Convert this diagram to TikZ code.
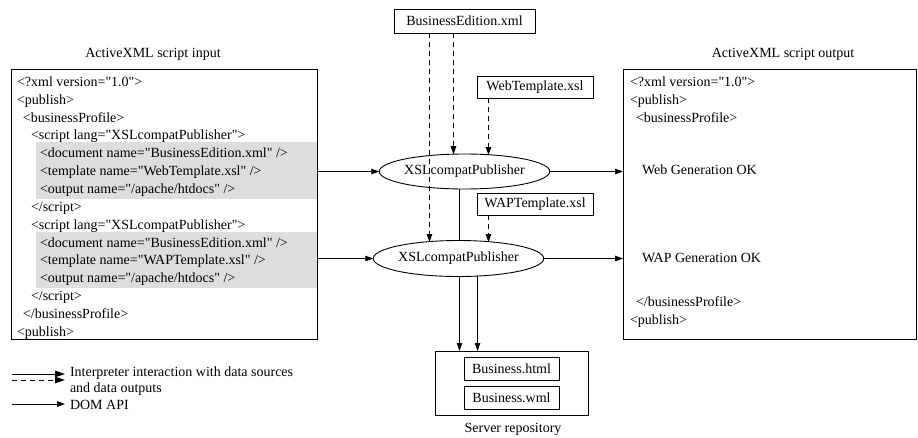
\documentclass[tikz,border=0pt]{standalone}
\usepackage{fontspec}
\setmainfont{Liberation Serif}[Ligatures=TeXOff]
\usetikzlibrary{arrows.meta,shapes.geometric,intersections,backgrounds}
\definecolor{shadegray}{RGB}{221,221,221}
\begin{document}
\begin{tikzpicture}[x=1pt,y=-1pt, line width=0.9pt,
  every node/.style={font=\fontsize{14}{16}\selectfont, inner sep=0pt, outer sep=0pt},
  frame/.style={draw, anchor=north west},
  shadebox/.style={fill=shadegray, anchor=north west, minimum width=281pt, minimum height=56.5pt},
  ln/.style={anchor=base west},
  ttl/.style={anchor=base},
  file/.style={draw, minimum width=116pt, minimum height=22pt},
  proc/.style={draw, ellipse, fill=white},
  arr/.style={-{Triangle[length=8pt,width=5.5pt]}},
  darr/.style={arr, dash pattern=on 5pt off 4pt},
  bigarr/.style={-{Triangle[length=10pt,width=6.5pt]}},
  ]
\useasboundingbox (0,0) rectangle (918,437);

% titles
\node[ttl] (tin) at (153,57.7) {ActiveXML script input};
\node[ttl] (tout) at (783,57.7) {ActiveXML script output};

% left box
\node[shadebox] (g1) at (36,142) {};
\node[shadebox] (g2) at (36,231.5) {};
\node[frame, minimum width=306pt, minimum height=270pt] (lbox) at (11,69) {};
\node[ln] (l0) at (17,86.4) {<?xml version="1.0">};
\node[ln] (l1) at (17,104.25) {<publish>};
\node[ln] (l2) at (23,122.1) {<businessProfile>};
\node[ln] (l3) at (31,139.95) {<script lang="XSLcompatPublisher">};
\node[ln] (l4) at (40,157.8) {<document name="BusinessEdition.xml" />};
\node[ln] (l5) at (40,175.65) {<template name="WebTemplate.xsl" />};
\node[ln] (l6) at (40,193.5) {<output name="/apache/htdocs" />};
\node[ln] (l7) at (31,211.35) {</script>};
\node[ln] (l8) at (31,229.2) {<script lang="XSLcompatPublisher">};
\node[ln] (l9) at (40,247.05) {<document name="BusinessEdition.xml" />};
\node[ln] (l10) at (40,264.9) {<template name="WAPTemplate.xsl" />};
\node[ln] (l11) at (40,282.75) {<output name="/apache/htdocs" />};
\node[ln] (l12) at (31,300.6) {</script>};
\node[ln] (l13) at (23,318.45) {</businessProfile>};
\node[ln] (l14) at (17,336.3) {<publish>};

% right box
\node[frame, minimum width=293pt, minimum height=270pt] (rbox) at (623,69) {};
\node[ln] (r0) at (630,86.4) {<?xml version="1.0">};
\node[ln] (r1) at (630,104.25) {<publish>};
\node[ln] (r2) at (636,122.1) {<businessProfile>};
\node[ln] (r3) at (642,174.7) {Web Generation OK};
\node[ln] (r4) at (642,262.7) {WAP Generation OK};
\node[ln] (r5) at (636,306.4) {</businessProfile>};
\node[ln] (r6) at (630,324.2) {<publish>};

% sources
\node[draw, minimum width=141pt, minimum height=24pt] (be) at (464.5,21) {BusinessEdition.xml};
\node[file] (wt) at (535,87) {WebTemplate.xsl};
\node[file] (wapt) at (535,204) {WAPTemplate.xsl};

% processors
\node[proc, minimum width=141pt, minimum height=35pt] (e1) at (464.5,171.5) {XSLcompatPublisher};
\node[proc, minimum width=143pt, minimum height=36pt] (e2) at (458.5,258.5) {XSLcompatPublisher};
\path[name path=pe1] (e1.center) ellipse [x radius=70.5pt, y radius=17.5pt];
\path[name path=pe2] (e2.center) ellipse [x radius=71.5pt, y radius=18pt];

% server repository
\node[draw, minimum width=153pt, minimum height=64pt] (srv) at (511.5,383) {};
\node[draw, minimum width=95pt, minimum height=23pt] (bhtml) at (511.5,368.5) {Business.html};
\node[draw, minimum width=95pt, minimum height=23pt] (bwml) at (511.5,397.5) {Business.wml};
\node[ttl] (srvl) at (513,432.7) {Server repository};

% vertical guide coordinates
\coordinate (xa) at (429.5,0);
\coordinate (xb) at (453.5,0);
\coordinate (xc) at (488.5,0);
\coordinate (xd) at (459.5,0);
\coordinate (xe) at (477.5,0);
\path[name path=va] (xa) -- ++(0,437);
\path[name path=vb] (xb) -- ++(0,437);
\path[name path=vc] (xc) -- ++(0,437);
\path[name path=vd] (xd) -- ++(0,437);
\path[name path=ve] (xe) -- ++(0,437);
\path[name intersections={of=va and pe2, sort by=va, by={ta2,ta2b}}];
\path[name intersections={of=vb and pe1, sort by=vb, by={tb1,tb1b}}];
\path[name intersections={of=vc and pe1, sort by=vc, by={tc1,tc1b}}];
\path[name intersections={of=vc and pe2, sort by=vc, by={tc2,tc2b}}];
\path[name intersections={of=vd and pe1, sort by=vd, by={td1,td1b}}];
\path[name intersections={of=ve and pe2, sort by=ve, by={te2,te2b}}];

% data flow connectors
\draw[arr] (lbox.east |- e1) -- (e1.west);
\draw[arr] (e1.east) -- (rbox.west |- e1);
\draw[arr] (lbox.east |- e2) -- (e2.west);
\draw[arr] (e2.east) -- (rbox.west |- e2);

\draw[darr] (be.south -| xa) -- (ta2);
\draw[darr] (be.south -| xb) -- (tb1);
\draw[darr] (wt.south -| xc) -- (tc1);
\draw[darr] (wapt.south -| xc) -- (tc2);

\begin{scope}[on background layer]
\draw[arr, line width=0.9pt] (td1b) -- (srv.north -| xd);
\end{scope}
\draw[arr] (te2b) -- (srv.north -| xe);

% legend
\coordinate (s1) at (12,374);
\coordinate (e1l) at (65,374);
\coordinate (s2) at (12,380);
\coordinate (e2l) at (65,380);
\coordinate (s3) at (12,404);
\coordinate (e3l) at (65,404);
\draw[bigarr] (s1) -- (e1l);
\draw[bigarr, dash pattern=on 5pt off 4pt] (s2) -- (e2l);
\draw[arr] (s3) -- (e3l);
\node[ln] (lt1) at (70,376.7) {Interpreter interaction with data sources};
\node[ln] (lt2) at (70,392.7) {and data outputs};
\node[ln] (lt3) at (70,409.2) {DOM API};
\end{tikzpicture}
\end{document}
